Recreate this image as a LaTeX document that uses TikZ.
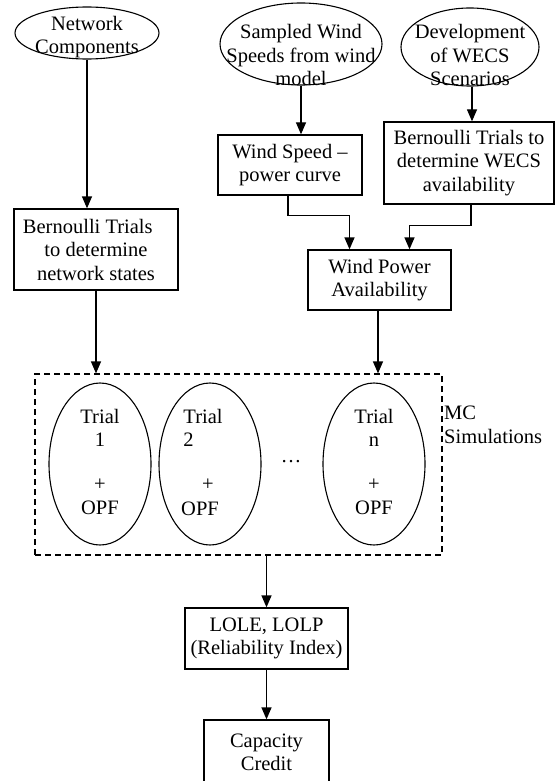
\documentclass[tikz,border=0pt]{standalone}
\usepackage{fontspec}
\setmainfont{Liberation Serif}
\usetikzlibrary{arrows.meta,shapes.geometric}

\tikzset{
  box/.style={draw, line width=1.3pt, rectangle, inner sep=0pt, align=center},
  oval/.style={draw, line width=1.1pt, ellipse, inner sep=0pt},
  flow/.style={line width=1.3pt, -{Triangle[width=10pt,length=12pt]}},
  txt/.style={align=center, inner sep=0pt},
}

\begin{document}
\begin{tikzpicture}[x=1pt,y=-1pt,font=\fontsize{20.5}{23.5}\selectfont]
\useasboundingbox (0,0) rectangle (559,781);
\clip (0,0) rectangle (559,781);

% inputs
\node[oval, minimum width=144, minimum height=52] (nc) at (87,33) {};
\node[txt] at (87,37) {Network\\Components};
\node[oval, minimum width=162, minimum height=82] (sw) at (301,44) {};
\node[txt] at (301,55) {Sampled Wind\\Speeds from wind\\model};
\node[oval, minimum width=138, minimum height=78] (dev) at (470,47) {};
\node[txt] at (470,55) {Development\\of WECS\\Scenarios};

% boxes
\node[box, minimum width=164, minimum height=81] (net) at (96,249.5) {Bernoulli Trials\hspace*{0.8em}\\to determine\\network states};
\node[box, minimum width=144, minimum height=60] (ws) at (290,165) {Wind Speed --\\power curve};
\node[box, minimum width=170, minimum height=82] (wecs) at (469,163) {Bernoulli Trials to\\determine WECS\\availability};
\node[box, minimum width=143, minimum height=60] (wp) at (379.5,280) {Wind Power\\Availability};

% MC block
\node[draw, dashed, line width=1.2pt, dash pattern=on 6pt off 4pt, minimum width=407, minimum height=181, inner sep=0pt] (mc) at (238.5,464.5) {};
\node[txt, align=left, anchor=west] at (444,425) {MC\\Simulations};
\foreach \x/\i in {100/1, 210/2, 374/n}
  \node[oval, minimum width=102, minimum height=162] (trial\i) at (\x,464) {};
\node[txt] at (100,428) {Trial\\1};
\node[txt] at (100,497) {+\\OPF};
\node[txt, align=left] at (203,428) {Trial\\2};
\node[txt] at (208,485) {+};
\node[txt] at (200,509) {OPF};
\node[txt] at (374,428) {Trial\\n};
\node[txt] at (374,497) {+\\OPF};
\node[txt] at (291,462) {\dots};

% outputs
\node[box, minimum width=163, minimum height=61] (lole) at (266.5,638.5) {LOLE, LOLP\\(Reliability Index)};
\node[box, minimum width=125, minimum height=65] (cc) at (266.5,752.5) {Capacity\\Credit};

% arrows
\draw[flow] (nc.south) -- (nc.south |- net.north);
\draw[flow] (sw.south) -- (sw.south |- ws.north);
\draw[flow] ([xshift=2pt]dev.south) -- ([xshift=2pt]dev.south |- wecs.north);
\draw[flow] ([xshift=-2pt]ws.south) -- ++(0,20) -| ([xshift=-30pt]wp.north);
\draw[flow] ([xshift=2pt]wecs.south) -- ++(0,21) -| ([xshift=30pt]wp.north);
\draw[flow] (net.south) -- (net.south |- mc.north);
\draw[flow] ([xshift=-1.5pt]wp.south) -- ([xshift=-1.5pt]wp.south |- mc.north);
\draw[flow] (lole.north |- mc.south) -- (lole.north);
\draw[flow] (lole.south) -- (cc.north);
\end{tikzpicture}
\end{document}
